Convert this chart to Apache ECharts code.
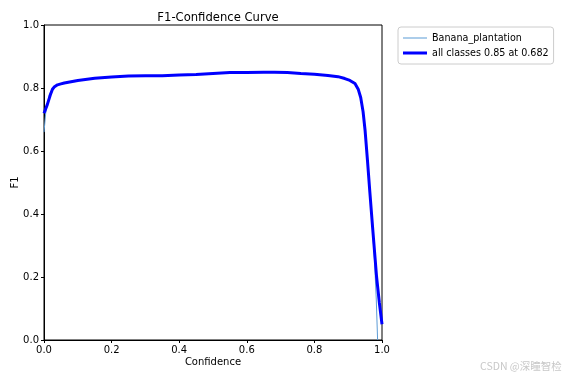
<!DOCTYPE html>
<html lang="en">
<head>
    <meta charset="UTF-8">
    <title>F1-Confidence Curve</title>
    <script src="https://cdn.jsdelivr.net/npm/echarts@6/dist/echarts.min.js"></script>
    <style type="text/css">
        *{ margin: 0; padding: 0; }
        #main{ width: 567px; height: 378px; background: #fff; }
    </style>
</head>
<body>
    <div id="main"></div>
</body>
<script>
    // 置信度 (x) 与 F1 (y)
    var allConf = [0, 0.01, 0.02, 0.025, 0.03, 0.035, 0.04, 0.05, 0.06, 0.08, 0.10, 0.15, 0.20, 0.25, 0.30, 0.35, 0.40, 0.45, 0.50, 0.55, 0.60, 0.65, 0.682, 0.72, 0.76, 0.80, 0.84, 0.87, 0.89, 0.905, 0.92, 0.93, 0.937, 0.944, 0.95, 0.957, 0.964, 0.972, 0.984, 0.992, 1.0];
    var allF1 = [0.72, 0.748, 0.782, 0.796, 0.803, 0.807, 0.810, 0.813, 0.816, 0.820, 0.824, 0.831, 0.835, 0.838, 0.839, 0.839, 0.841, 0.843, 0.846, 0.849, 0.849, 0.850, 0.850, 0.849, 0.846, 0.844, 0.840, 0.836, 0.830, 0.824, 0.814, 0.795, 0.770, 0.725, 0.665, 0.57, 0.47, 0.36, 0.20, 0.12, 0.05];
    var bananaConf = [0, 0.005, 0.015, 0.025, 0.035, 0.04, 0.05, 0.06, 0.08, 0.10, 0.15, 0.20, 0.25, 0.30, 0.35, 0.40, 0.45, 0.50, 0.55, 0.60, 0.65, 0.682, 0.72, 0.76, 0.80, 0.84, 0.87, 0.89, 0.905, 0.92, 0.93, 0.937, 0.944, 0.95, 0.957, 0.964, 0.972, 0.978, 0.983, 0.987];
    var bananaF1 = [0.66, 0.72, 0.778, 0.798, 0.807, 0.810, 0.813, 0.816, 0.820, 0.824, 0.831, 0.835, 0.838, 0.839, 0.839, 0.841, 0.843, 0.846, 0.849, 0.849, 0.850, 0.850, 0.849, 0.846, 0.844, 0.840, 0.836, 0.830, 0.824, 0.814, 0.795, 0.770, 0.725, 0.665, 0.57, 0.47, 0.35, 0.25, 0.13, 0.0];

    function pairs(xs, ys){
        var out = [];
        for (var i = 0; i < xs.length; i++){
            out.push([xs[i], ys[i]]);
        }
        return out;
    }

    // 图例里的线段图标 (方框 24x10, 中间一条横线)
    function lineIcon(h){
        var y0 = 5 - h / 2, y1 = 5 + h / 2;
        return 'path://M0 0L0.01 0L0 0.01Z M0 ' + y0 + 'L24 ' + y0 + 'L24 ' + y1 + 'L0 ' + y1 + 'Z M24 10L23.99 10L24 9.99Z';
    }

    var font = 'DejaVu Sans';
    var myChart = echarts.init(document.getElementById('main'));
    var option = {
        animation: false,
        title: {
            text: 'F1-Confidence Curve',
            left: 213, top: 7,
            textAlign: 'center',
            textStyle: { fontFamily: font, fontSize: 11.6, fontWeight: 'normal', color: '#000' }
        },
        legend: {
            orient: 'vertical',
            left: 398, top: 27,
            padding: [6, 5, 6, 5],
            itemGap: 5,
            itemWidth: 24, itemHeight: 10,
            borderColor: '#ccc', borderWidth: 1, borderRadius: 3,
            textStyle: { fontFamily: font, fontSize: 9.6, color: '#000' },
            data: [
                { name: 'Banana_plantation', icon: lineIcon(1.2), itemStyle: { color: '#5b9bd5' } },
                { name: 'all classes 0.85 at 0.682', icon: lineIcon(3), itemStyle: { color: '#0000ff' } }
            ]
        },
        grid: {
            left: 44, right: 185, top: 25, bottom: 38,
            outerBoundsMode: 'none',
            show: true, borderColor: '#000', borderWidth: 1
        },
        xAxis: {
            type: 'value', min: 0, max: 1, interval: 0.2,
            name: 'Confidence', nameLocation: 'middle', nameGap: 17,
            nameMoveOverlap: false,
            nameTextStyle: { fontFamily: font, fontSize: 10, color: '#000' },
            axisLine: { show: true, lineStyle: { color: '#000' } },
            axisTick: { show: true, length: 3, lineStyle: { color: '#000' } },
            axisLabel: { fontFamily: font, fontSize: 10, color: '#000', margin: 5,
                formatter: function(v){ return v.toFixed(1); } },
            splitLine: { show: false }
        },
        yAxis: {
            type: 'value', min: 0, max: 1, interval: 0.2,
            name: 'F1', nameLocation: 'middle', nameGap: 24,
            nameMoveOverlap: false,
            nameTextStyle: { fontFamily: font, fontSize: 10, color: '#000' },
            axisLine: { show: true, lineStyle: { color: '#000' } },
            axisTick: { show: true, length: 3, lineStyle: { color: '#000' } },
            axisLabel: { fontFamily: font, fontSize: 10, color: '#000', margin: 5,
                formatter: function(v){ return v.toFixed(1); } },
            splitLine: { show: false }
        },
        graphic: [{
            type: 'text', left: 480, top: 361,
            style: { text: 'CSDN @深瞳智检', fontFamily: 'Noto Sans CJK SC', fontSize: 10.5, fill: '#c8c8c8' }
        }],
        series: [
            {
                name: 'Banana_plantation', type: 'line', symbol: 'none',
                data: pairs(bananaConf, bananaF1),
                lineStyle: { color: '#5b9bd5', width: 1 },
                itemStyle: { color: '#5b9bd5' }
            },
            {
                name: 'all classes 0.85 at 0.682', type: 'line', symbol: 'none',
                data: pairs(allConf, allF1),
                lineStyle: { color: '#0000ff', width: 3 },
                itemStyle: { color: '#0000ff' }
            }
        ]
    };
    myChart.setOption(option);
</script>
</html>
